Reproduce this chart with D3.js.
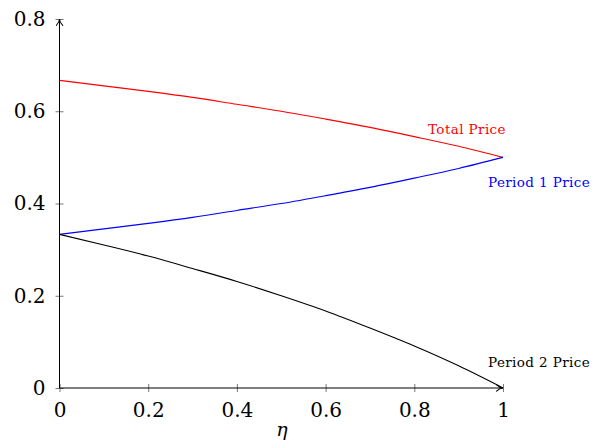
<!DOCTYPE html>
<html>
<head>
<meta charset="utf-8">
<script src="https://cdn.jsdelivr.net/npm/d3@7"></script>
<style>
  html, body { margin: 0; padding: 0; background: #fff; }
  svg { display: block; }
</style>
</head>
<body>
<svg id="chart" width="603" height="445"></svg>
<script>
// Discount factor η sampled across [0, 1]
const eta = [0, 0.1, 0.2, 0.3, 0.4, 0.5, 0.6, 0.7, 0.8, 0.9, 1];
// Price paths
const totalPrice   = [0.667, 0.655, 0.643, 0.630, 0.615, 0.600, 0.583, 0.565, 0.545, 0.524, 0.500];
const period1Price = [0.333, 0.345, 0.357, 0.370, 0.385, 0.400, 0.417, 0.435, 0.455, 0.476, 0.500];
const period2Price = [0.333, 0.310, 0.286, 0.259, 0.231, 0.200, 0.167, 0.130, 0.091, 0.048, 0.000];

const xTicks = [0, 0.2, 0.4, 0.6, 0.8, 1];
const yTicks = [0, 0.2, 0.4, 0.6, 0.8];

const seriesNames  = ["Total Price", "Period 1 Price", "Period 2 Price"];
const seriesValues = [totalPrice, period1Price, period2Price];
const seriesColors = ["#ff0000", "#0000ff", "#000000"];

const svg = d3.select("#chart");
const x = d3.scaleLinear().domain([0, 1]).range([59.5, 503]);
const y = d3.scaleLinear().domain([0, 0.8]).range([388, 19]);

const serif = '"DejaVu Serif", "Liberation Serif", serif';

// Arrow marker for axis ends
svg.append("defs").append("marker")
  .attr("id", "arrow")
  .attr("viewBox", "0 0 10 10")
  .attr("refX", 9).attr("refY", 5)
  .attr("markerWidth", 8).attr("markerHeight", 8)
  .attr("markerUnits", "userSpaceOnUse")
  .attr("orient", "auto")
  .append("path")
  .attr("d", "M1,1 Q5,5 9,5 Q5,5 1,9")
  .attr("fill", "none")
  .attr("stroke", "#000")
  .attr("stroke-width", 1.3)
  .attr("stroke-linecap", "round");

// Axes with ticks crossing the axis line
const xAxis = d3.axisBottom(x).tickValues(xTicks)
  .tickFormat(d => d3.format("")(d))
  .tickSizeInner(4).tickSizeOuter(0).tickPadding(11);
const yAxis = d3.axisLeft(y).tickValues(yTicks)
  .tickFormat(d => d3.format("")(d))
  .tickSizeInner(4).tickSizeOuter(0).tickPadding(10);

const gx = svg.append("g").attr("transform", `translate(0,${y(0)})`).call(xAxis);
const gy = svg.append("g").attr("transform", `translate(${x(0)},0)`).call(yAxis);

[gx, gy].forEach(g => {
  g.select(".domain").remove();
  g.selectAll(".tick line").attr("stroke", "#555").attr("stroke-width", 0.8);
  g.selectAll(".tick text")
    .attr("font-family", serif)
    .attr("font-size", 20)
    .attr("fill", "#000");
});
gx.selectAll(".tick line").attr("y1", -4).attr("y2", 4);
gy.selectAll(".tick line").attr("x1", -4).attr("x2", 4);

// Axis lines with arrow tips
svg.append("line")
  .attr("x1", x(0)).attr("y1", y(0)).attr("x2", x(1)).attr("y2", y(0))
  .attr("stroke", "#000").attr("stroke-width", 1)
  .attr("marker-end", "url(#arrow)");
svg.append("line")
  .attr("x1", x(0)).attr("y1", y(0)).attr("x2", x(0)).attr("y2", y(0.8))
  .attr("stroke", "#000").attr("stroke-width", 1)
  .attr("marker-end", "url(#arrow)");

// Price curves
const line = d3.line()
  .x((d, i) => x(eta[i]))
  .y(d => y(d))
  .curve(d3.curveMonotoneX);

seriesValues.forEach((vals, k) => {
  svg.append("path")
    .datum(vals)
    .attr("d", line)
    .attr("fill", "none")
    .attr("stroke", seriesColors[k])
    .attr("stroke-width", 1.1);
});

// Series labels near the right end of each curve
const labelPos = [
  { name: seriesNames[0], x: 428, y: 134, color: seriesColors[0] },
  { name: seriesNames[1], x: 488, y: 187, color: seriesColors[1] },
  { name: seriesNames[2], x: 488, y: 367, color: seriesColors[2] }
];
svg.selectAll(".series-label")
  .data(labelPos)
  .enter().append("text")
  .attr("class", "series-label")
  .attr("x", d => d.x).attr("y", d => d.y)
  .attr("font-family", serif)
  .attr("font-size", 13.5)
  .attr("letter-spacing", 0.4)
  .attr("fill", d => d.color)
  .text(d => d.name);

// Axis title
svg.append("text")
  .attr("x", 282).attr("y", 436)
  .attr("text-anchor", "middle")
  .attr("font-family", serif)
  .attr("font-style", "italic")
  .attr("font-size", 19)
  .text("η");
</script>
</body>
</html>
